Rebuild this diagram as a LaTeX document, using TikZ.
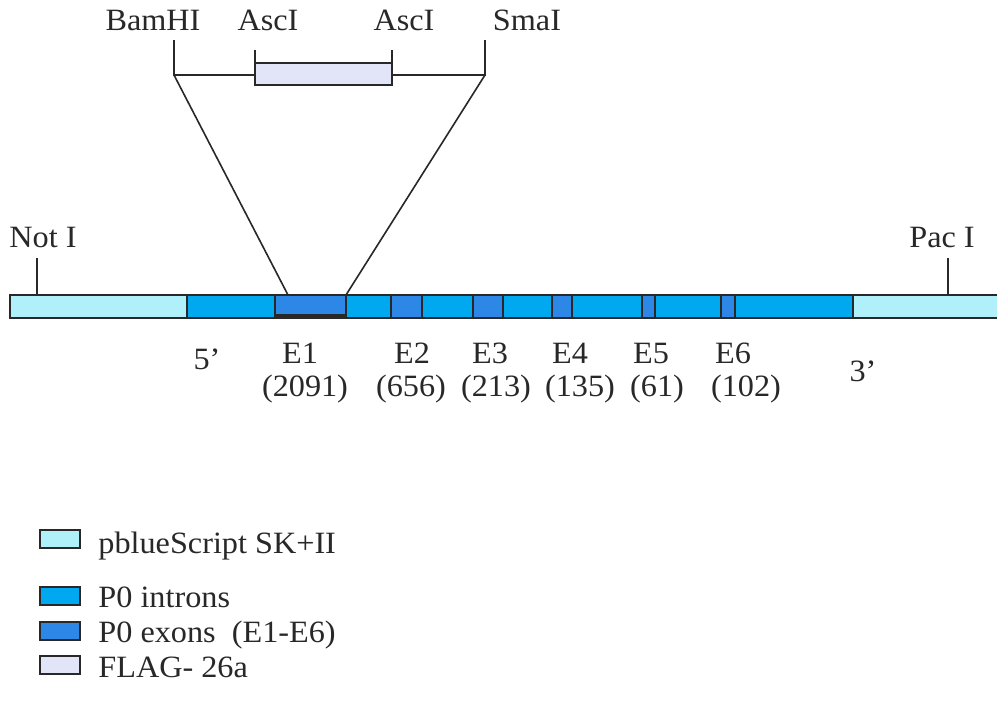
\documentclass[tikz,border=0pt]{standalone}
\usepackage{fontspec}
\setmainfont{Liberation Serif}[FakeStretch=1.04]
\definecolor{vector}{RGB}{175,240,250}
\definecolor{intron}{RGB}{0,168,240}
\definecolor{exon}{RGB}{45,135,230}
\definecolor{flag}{RGB}{226,228,248}
\definecolor{ink}{RGB}{40,40,40}
\tikzset{
  seg/.style={draw=ink, line width=1.2pt},
  tick/.style={draw=ink, line width=0.8pt},
  lbl/.style={inner sep=0pt, anchor=base, font=\fontsize{15.5}{18}\selectfont, text=ink},
  leg/.style={inner sep=0pt, anchor=base west, font=\fontsize{15.5}{18}\selectfont, text=ink},
}
\begin{document}
\begin{tikzpicture}[x=0.5pt,y=-0.5pt]
\useasboundingbox[fill=white] (0,0) rectangle (997,713);

% --- construct bar: vector arms and P0 gene body
\fill[vector] (10,295) rectangle (187,318);
\fill[vector] (853,295) rectangle (1000,318);
\fill[intron] (187,295) rectangle (853,318);
\draw[seg] (1000,295) -- (10,295) -- (10,318) -- (1000,318);
\draw[seg] (187,295) -- (187,318);
\draw[seg] (853,295) -- (853,318);

% --- exons
\foreach \a/\b/\n in {275/346/e1, 391/422/e2, 473/503/e3, 552/572/e4, 642/655/e5, 721/735/e6}{
  \draw[seg, fill=exon] (\a,295) rectangle (\b,318);
  \coordinate (\n) at ({(\a+\b)/2},295);
}
\draw[ink, line width=1.6pt] (276,316) -- (345,316);

% --- end restriction sites
\coordinate (notI) at (37,295);
\coordinate (pacI) at (948,295);
\draw[tick] (notI) -- ++(0,-37) coordinate (notItop);
\draw[tick] (pacI) -- ++(0,-37) coordinate (pacItop);
\node[lbl] (notIlbl) at (43,247) {Not I};
\node[lbl] (pacIlbl) at (942,247) {Pac I};

% --- FLAG insert cassette
\coordinate (bam) at (174,75);
\coordinate (sma) at (485,75);
\draw[tick] (174,40) -- (bam) -- (255,75);
\draw[tick] (392,75) -- (sma) -- (485,40);
\draw[tick, fill=flag] (255,63) rectangle (392,85);
\draw[tick] (255,63) -- (255,50);
\draw[tick] (392,63) -- (392,50);
\node[lbl] (bamlbl) at (153,30) {BamHI};
\node[lbl] (asc1lbl) at (268,30) {AscI};
\node[lbl] (asc2lbl) at (404,30) {AscI};
\node[lbl] (smalbl) at (527,30) {SmaI};

% --- insertion into E1
\coordinate (insL) at (288,295);
\coordinate (insR) at (346,295);
\draw[tick] (bam) -- (insL);
\draw[tick] (sma) -- (insR);

% --- exon labels
\node[lbl] (p5) at (207,369) {5’};
\node[lbl] (p3) at (863,381) {3’};
\foreach \x/\e/\y/\s in {300/E1/305/2091, 412/E2/411/656, 490/E3/496/213, 570/E4/580/135, 651/E5/657/61, 733/E6/746/102}{
  \node[lbl] at (\x,363) {\e};
  \node[lbl] at (\y,396) {(\s)};
}

% --- legend
\foreach \y/\c in {530/vector, 587/intron, 622/exon, 656/flag}{
  \draw[seg, fill=\c] (40,\y) rectangle (80,\y+18);
}
\node[leg] (l1) at (98,553) {pblueScript SK+II};
\node[leg] (l2) at (98,607) {P0 introns};
\node[leg] (l3) at (98,642) {P0 exons\ \ (E1-E6)};
\node[leg] (l4) at (98,677) {FLAG- 26a};
\end{tikzpicture}
\end{document}
